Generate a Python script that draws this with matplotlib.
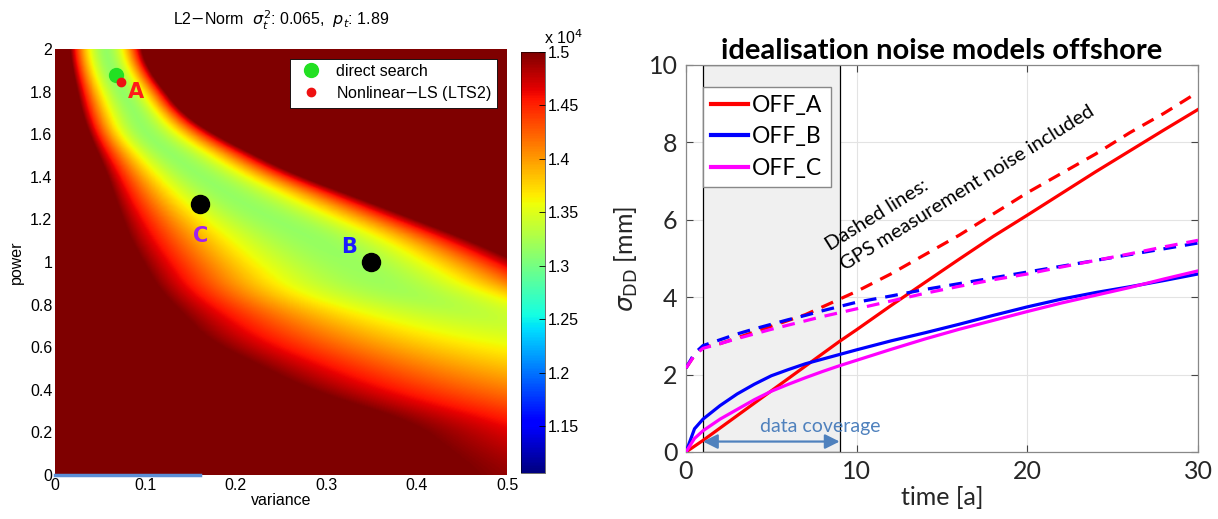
import numpy as np
import matplotlib
matplotlib.use("Agg")
import matplotlib.pyplot as plt

# ---- cost surface (cost in units of 1e4) ----
# the valley is described row by row: where the cost saturates on the low-variance
# side, where it is smallest, and where it saturates again on the high-variance side
valley_power = [0.0, 0.24, 0.40, 0.63, 0.87, 1.10, 1.27, 1.42, 1.60, 1.70, 1.89, 2.0]
edge_low = [0.47, 0.40, 0.28, 0.17, 0.115, 0.084, 0.069, 0.057, 0.038, 0.030, 0.020, 0.016]
valley_variance = [0.80, 0.72, 0.66, 0.55, 0.37, 0.29, 0.21, 0.155, 0.10, 0.088, 0.063, 0.055]
edge_high = [1.20, 1.10, 1.00, 0.85, 0.58, 0.46, 0.355, 0.26, 0.175, 0.14, 0.105, 0.094]
valley_floor = [1.46, 1.42, 1.39, 1.35, 1.32, 1.315, 1.315, 1.315, 1.315, 1.315, 1.315, 1.315]
cost_lo, cost_hi = 1.106, 1.5
cbar_ticks = [1.15, 1.2, 1.25, 1.3, 1.35, 1.4, 1.45, 1.5]
cbar_labels = ["1.15", "1.2", "1.25", "1.3", "1.35", "1.4", "1.45", "1.5"]

direct_search = (0.0675, 1.88)
nonlinear_ls = (0.0727, 1.845)
model_var = [0.35, 0.16]
model_pow = [1.0, 1.27]
label_text = ["A", "B", "C"]
label_var = [0.090, 0.325, 0.161]
label_pow = [1.80, 1.072, 1.12]
label_color = ["#ff1a1a", "#1a1aff", "#a020f0"]

# ---- sigma_DD time series ----
t = [0, 0.5, 1, 2, 3, 4, 5, 6, 7, 8, 9, 10, 12, 14, 16, 18, 20, 22, 24, 26, 28, 30]
off_a = [0, 0.15, 0.3, 0.62, 0.94, 1.26, 1.58, 1.9, 2.22, 2.54, 2.86, 3.16,
         3.78, 4.38, 4.98, 5.57, 6.12, 6.68, 7.24, 7.78, 8.32, 8.85]
off_b = [0, 0.6, 0.85, 1.2, 1.5, 1.75, 1.97, 2.13, 2.28, 2.4, 2.52, 2.64,
         2.87, 3.08, 3.3, 3.53, 3.75, 3.95, 4.12, 4.27, 4.43, 4.6]
off_c = [0, 0.35, 0.55, 0.85, 1.1, 1.35, 1.57, 1.75, 1.92, 2.08, 2.23, 2.37,
         2.65, 2.92, 3.17, 3.4, 3.63, 3.85, 4.05, 4.25, 4.47, 4.68]
off_a_gps = [2.17, 2.5, 2.7, 2.8, 2.95, 3.1, 3.25, 3.4, 3.55, 3.75, 3.95, 4.15,
             4.6, 5.1, 5.6, 6.15, 6.7, 7.2, 7.7, 8.25, 8.75, 9.3]
off_b_gps = [2.17, 2.55, 2.75, 2.9, 3.05, 3.18, 3.3, 3.42, 3.53, 3.65, 3.76, 3.87,
             4.03, 4.2, 4.35, 4.5, 4.65, 4.8, 4.95, 5.1, 5.25, 5.4]
off_c_gps = [2.17, 2.5, 2.68, 2.8, 2.93, 3.05, 3.17, 3.28, 3.39, 3.5, 3.6, 3.7,
             3.9, 4.1, 4.28, 4.45, 4.6, 4.78, 4.95, 5.12, 5.3, 5.47]
coverage = (1, 9)

fig = plt.figure(figsize=(12.18, 5.19), dpi=100)

# ================= left: L2 norm surface =================
ax1 = fig.add_axes([0.0452, 0.0848, 0.3711, 0.8208])
var = np.linspace(0, 0.5, 500)
pw = np.linspace(0, 2, 500)


def smooth(y, k=31):
    pad = np.pad(y, k // 2, mode="edge")
    return np.convolve(pad, np.ones(k) / k, mode="valid")


lo = smooth(np.interp(pw, valley_power, edge_low))
c = smooth(np.interp(pw, valley_power, valley_variance))
hi = smooth(np.interp(pw, valley_power, edge_high))
fl = smooth(np.interp(pw, valley_power, valley_floor))
d = var[None, :] - c[:, None]
w = np.where(d < 0, (c - lo)[:, None], (hi - c)[:, None])
f = np.clip(np.abs(d) / w, 0, 1) ** 1.8
Z = fl[:, None] + (cost_hi - fl[:, None]) * f

im = ax1.imshow(Z, origin="lower", extent=[0, 0.5, 0, 2], aspect="auto",
                cmap="jet", vmin=cost_lo, vmax=cost_hi, interpolation="bilinear")
ax1.plot([0, 0.16], [0, 0], color="#5b8fd6", lw=2.5, clip_on=False, zorder=3)
ax1.plot(*direct_search, "o", color="#22e022", ms=10, ls="none", label="direct search")
ax1.plot(*nonlinear_ls, "o", color="#ee1111", ms=6, ls="none", label="Nonlinear$-$LS (LTS2)")
ax1.plot(model_var, model_pow, "o", color="black", ms=13, ls="none")
for s, x, y, col in zip(label_text, label_var, label_pow, label_color):
    ax1.text(x, y, s, color=col, fontsize=15, fontweight="bold",
             ha="center", va="center", family="DejaVu Sans")

ax1.set_xlim(0, 0.5)
ax1.set_ylim(0, 2)
ax1.set_xticks(np.arange(0, 0.51, 0.1))
ax1.set_xticklabels(["0", "0.1", "0.2", "0.3", "0.4", "0.5"])
ax1.set_yticks(np.arange(0, 2.01, 0.2))
ax1.set_yticklabels(["0", "0.2", "0.4", "0.6", "0.8", "1", "1.2", "1.4", "1.6", "1.8", "2"])
for sp in ax1.spines.values():
    sp.set_visible(False)
ax1.tick_params(labelsize=11.5, length=0, pad=2)
for lab in ax1.get_xticklabels() + ax1.get_yticklabels():
    lab.set_family("Liberation Sans")
ax1.set_xlabel("variance", fontsize=11.5, family="Liberation Sans", labelpad=0)
ax1.set_ylabel("power", fontsize=11.5, family="Liberation Sans", labelpad=4)
ax1.set_title(r"L2$-$Norm  $\sigma_t^2$: 0.065,  $p_t$: 1.89", fontsize=11.5,
              family="Liberation Sans", pad=17)
leg1 = ax1.legend(loc="upper right", bbox_to_anchor=(0.978, 0.976), borderaxespad=0,
                  prop={"family": "Liberation Sans", "size": 11.5}, fancybox=False,
                  edgecolor="black", framealpha=1, handletextpad=0.6,
                  labelspacing=0.3, borderpad=0.3)
leg1.get_frame().set_linewidth(0.6)

cax = fig.add_axes([0.4278, 0.0886, 0.0197, 0.8112])
cb = fig.colorbar(im, cax=cax, ticks=cbar_ticks)
cb.set_ticklabels(cbar_labels)
cb.outline.set_linewidth(0.4)
cax.tick_params(direction="in", length=4, width=0.6, labelsize=11.5, pad=2)
for lab in cax.get_yticklabels():
    lab.set_family("Liberation Sans")
cax.text(0.95, 1.012, r"x 10$^4$", transform=cax.transAxes, fontsize=11.5,
         family="Liberation Sans", ha="left", va="bottom")

# ================= right: noise models offshore =================
ax2 = fig.add_axes([0.5632, 0.1291, 0.4204, 0.7457])
ax2.axvspan(*coverage, facecolor="#f0f0f0", edgecolor="black", lw=0.9, zorder=1)
ax2.grid(True, color="#e3e3e3", lw=0.8, zorder=0)
ax2.set_axisbelow(True)

lw = 2.3
dash = (0, (4, 2.8))
ax2.plot(t, off_a, color="#ff0000", lw=lw, label="OFF_A", zorder=4)
ax2.plot(t, off_b, color="#0000ff", lw=lw, label="OFF_B", zorder=4)
ax2.plot(t, off_c, color="#ff00ff", lw=lw, label="OFF_C", zorder=4)
ax2.plot(t, off_a_gps, color="#ff0000", lw=lw, ls=dash, zorder=4)
ax2.plot(t, off_b_gps, color="#0000ff", lw=lw, ls=dash, zorder=4)
ax2.plot(t, off_c_gps, color="#ff00ff", lw=lw, ls=dash, zorder=4)

ax2.annotate("", xy=(coverage[0], 0.27), xytext=(coverage[1], 0.27),
             arrowprops=dict(arrowstyle="<|-|>", color="#4f81bd", lw=1.6,
                             mutation_scale=22, shrinkA=0, shrinkB=0), zorder=5)
ax2.text(7.85, 0.65, "data coverage", color="#4f81bd", fontsize=14,
         family="Lato", ha="center", va="center", zorder=5)
ax2.text(8.45, 5.19, "Dashed lines:", rotation=32, rotation_mode="anchor",
         fontsize=14.5, family="Lato", ha="left", va="baseline", zorder=5)
ax2.text(9.3, 4.67, "GPS measurement noise included", rotation=32,
         rotation_mode="anchor", fontsize=14.5, family="Lato", ha="left",
         va="baseline", zorder=5)

ax2.set_xlim(0, 30)
ax2.set_ylim(0, 10)
ax2.set_xticks([0, 10, 20, 30])
ax2.set_yticks([0, 2, 4, 6, 8, 10])
ax2.tick_params(direction="in", top=True, right=True, length=5, width=0.8,
                color="#444444", labelsize=18, pad=6)
for lab in ax2.get_xticklabels() + ax2.get_yticklabels():
    lab.set_family("Lato")
    lab.set_color("#262626")
for sp in ax2.spines.values():
    sp.set_color("#888888")
    sp.set_linewidth(0.9)
ax2.set_xlabel("time [a]", fontsize=18, family="Lato", color="#262626", labelpad=2)
ax2.set_ylabel(r"$\sigma_{\mathrm{DD}}$ [mm]", fontsize=18, family="Lato",
               color="#262626", labelpad=6)
ax2.set_title("idealisation noise models offshore", fontsize=21, fontweight="bold",
              family="Lato", pad=4)
leg2 = ax2.legend(loc="upper left", bbox_to_anchor=(0.033, 0.943), borderaxespad=0,
                  prop={"family": "Lato", "size": 16.5}, fancybox=False,
                  edgecolor="#888888", framealpha=1, handlelength=1.6,
                  handletextpad=0.2, labelspacing=0.45, borderpad=0.35)
for ln in leg2.get_lines():
    ln.set_linewidth(3)
leg2.set_zorder(6)

fig.savefig("out.png", dpi=100)
